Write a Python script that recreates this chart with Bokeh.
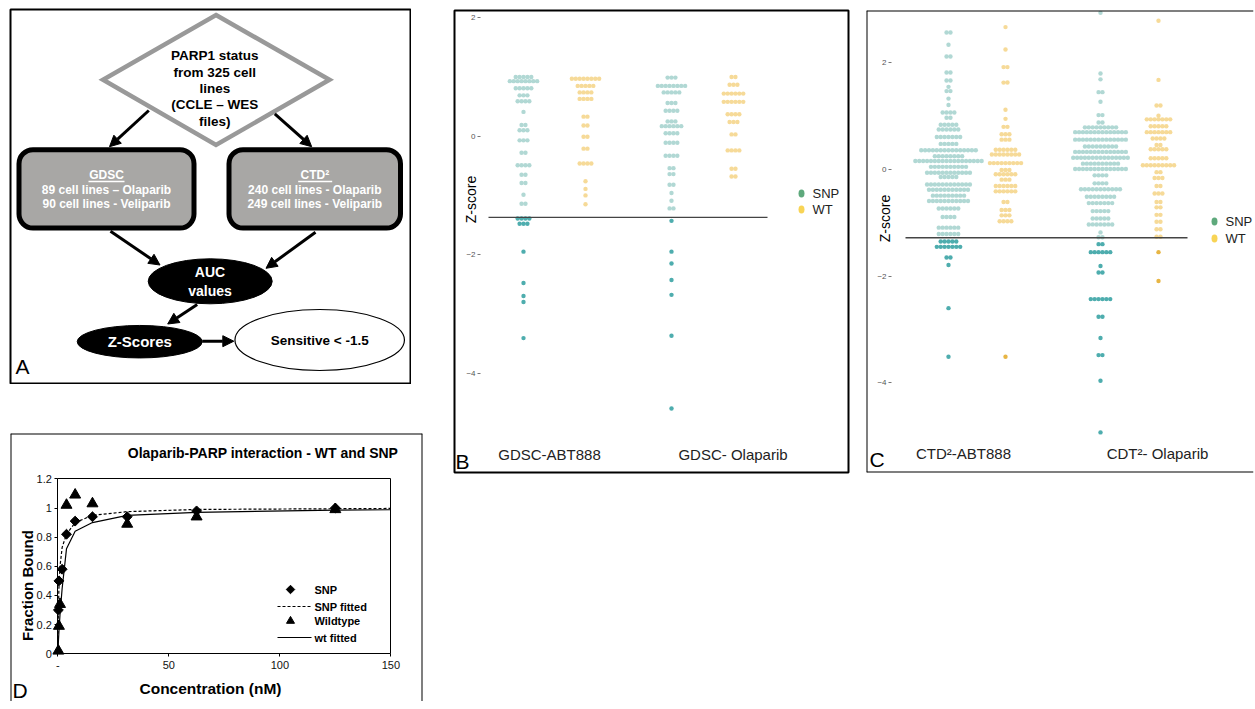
import math
from bokeh.plotting import figure
from bokeh.models import (Range1d, Spacer, FixedTicker, Arrow, NormalHead,
                          LinearAxis, ColumnDataSource)
from bokeh.layouts import row, column
from bokeh.core.properties import value
from bokeh.embed import file_html
from bokeh.resources import INLINE

F = value("Liberation Sans")
FS = "Liberation Sans"

# ---------------- Panel B data (GDSC, Z-scores) ----------------
gdsc_labels = ["GDSC-ABT888", "GDSC- Olaparib"]
gdsc_threshold = -1.37
gdsc_abt888_snp_z = [1.00, 0.93, 0.81, 0.69, 0.59, 0.41, 0.19, 0.10, -0.07, -0.28, -0.49,
                     -0.65, -0.79, -0.99, -1.14, -1.39, -1.48, -1.95, -2.48, -2.70, -2.80, -3.41]
gdsc_abt888_snp_n = [5, 8, 5, 3, 4, 1, 2, 3, 3, 2, 4, 2, 2, 1, 2, 4, 3, 1, 1, 1, 1, 1]
gdsc_abt888_wt_z = [0.97, 0.85, 0.74, 0.63, 0.33, 0.18, -0.01, -0.21, -0.46, -0.76, -0.89, -1.00, -1.15]
gdsc_abt888_wt_n = [8, 5, 4, 4, 2, 2, 2, 2, 4, 1, 1, 1, 1]
gdsc_olap_snp_z = [0.99, 0.85, 0.74, 0.56, 0.43, 0.25, 0.17, 0.05, -0.11, -0.33, -0.54, -0.64,
                   -0.82, -0.96, -1.09, -1.22, -1.43, -1.95, -2.15, -2.43, -2.68, -3.37, -4.60]
gdsc_olap_snp_n = [3, 8, 5, 3, 4, 3, 6, 4, 4, 4, 2, 2, 2, 1, 1, 2, 1, 1, 1, 1, 1, 1, 1]
gdsc_olap_wt_z = [1.00, 0.87, 0.72, 0.58, 0.37, 0.24, 0.03, -0.24, -0.55, -0.68]
gdsc_olap_wt_n = [2, 3, 6, 6, 4, 3, 2, 4, 2, 2]

# ---------------- Panel C data (CTD2, Z-scores) ----------------
ctd_labels = ["CTD\u00b2-ABT888", "CDT\u00b2- Olaparib"]
ctd_threshold = -1.28
ctd_abt888_snp_z = [2.57, 2.34, 2.12, 1.82, 1.67, 1.55, 1.47, 1.33, 1.21, 1.07,
                    0.97, 0.84, 0.75, 0.61, 0.48, 0.36, 0.25, 0.16, 0.05, -0.06,
                    -0.14, -0.28, -0.38, -0.49, -0.59, -0.73, -0.89, -1.09, -1.21, -1.35,
                    -1.45, -1.65, -1.79, -2.60, -3.51]
ctd_abt888_snp_n = [2, 1, 2, 2, 2, 1, 2, 1, 1, 4,
                    2, 5, 6, 7, 5, 15, 8, 18, 10, 12,
                    5, 12, 11, 9, 11, 6, 4, 6, 6, 5,
                    7, 2, 1, 1, 1]
ctd_abt888_wt_z = [2.67, 2.25, 1.92, 1.63, 1.12, 0.95, 0.80, 0.66, 0.56, 0.37, 0.28, 0.12,
                   -0.01, -0.09, -0.19, -0.31, -0.41, -0.61, -0.76, -0.86, -0.97, -3.51]
ctd_abt888_wt_n = [1, 1, 2, 2, 1, 1, 2, 3, 3, 6, 8, 9, 3, 6, 3, 6, 6, 2, 3, 3, 4, 1]
ctd_olap_snp_z = [2.94, 1.80, 1.69, 1.45, 1.27, 1.02, 0.88, 0.79, 0.70, 0.56,
                  0.43, 0.33, 0.22, 0.11, 0.01, -0.11, -0.26, -0.37, -0.51, -0.63,
                  -0.78, -0.92, -1.03, -1.18, -1.27, -1.40, -1.55, -1.81, -1.93, -2.43,
                  -2.76, -3.16, -3.48, -3.96, -4.93]
ctd_olap_snp_n = [1, 1, 1, 2, 1, 2, 2, 9, 14, 14,
                  9, 14, 15, 10, 14, 4, 4, 11, 8, 7,
                  5, 5, 7, 1, 2, 2, 6, 1, 2, 6,
                  2, 1, 2, 1, 1]
ctd_olap_wt_z = [2.79, 1.68, 1.20, 1.01, 0.94, 0.81, 0.70, 0.58, 0.46, 0.38, 0.21, 0.08,
                 -0.05, -0.16, -0.31, -0.45, -0.61, -0.71, -0.85, -0.98, -1.12, -1.26, -1.55, -2.09]
ctd_olap_wt_n = [1, 1, 2, 1, 7, 5, 7, 4, 2, 5, 5, 9, 2, 3, 2, 3, 2, 2, 2, 2, 2, 2, 1, 1]

z_ticks = [-4, -2, 0, 2]
legend_labels = ["SNP", "WT"]

# ---------------- Panel D data (binding curve) ----------------
conc_snp = [0.24, 0.49, 1.95, 3.9, 7.8, 15.6, 31.25, 62.5, 125]
frac_snp = [0.30, 0.50, 0.58, 0.82, 0.91, 0.94, 0.94, 0.98, 1.00]
conc_wt = [0.24, 0.49, 0.98, 3.9, 7.8, 15.6, 31.25, 62.5, 125]
frac_wt = [0.02, 0.19, 0.34, 1.02, 1.09, 1.03, 0.89, 0.94, 0.99]
fit_conc = [0, 0.24, 0.49, 0.98, 1.95, 3.9, 7.8, 15.6, 31.25, 62.5, 125, 150]
snp_fit = [0.0, 0.28, 0.45, 0.60, 0.73, 0.82, 0.90, 0.95, 0.975, 0.99, 0.995, 0.997]
wt_fit = [0.0, 0.08, 0.15, 0.27, 0.45, 0.72, 0.84, 0.90, 0.95, 0.97, 0.985, 0.988]
conc_ticks = [0, 50, 100, 150]
frac_ticks = [0, 0.2, 0.4, 0.6, 0.8, 1.0, 1.2]
d_legend = ["SNP", "SNP fitted", "Wildtype", "wt fitted"]

# ---------------- styles ----------------
SNP_LIGHT = "#a3d1cc"
SNP_DARK = "#2f9fa0"
WT_LIGHT = "#f4d386"
WT_DARK = "#e3a823"
LEG_SNP = "#5ea97c"
LEG_WT = "#f8d455"
DOT_STEP = 3.9
DOT_SIZE = 4.4


def base_fig(w, h, xr, yr, mb=2, outline=True):
    p = figure(width=w, height=h, x_range=xr, y_range=yr, x_axis_type=None,
               y_axis_type=None, toolbar_location=None, output_backend="svg",
               min_border=mb, outline_line_color="black" if outline else None,
               outline_line_width=2,
               background_fill_color="white", border_fill_color="white")
    p.xgrid.visible = False
    p.ygrid.visible = False
    return p


def border_line(p, side, loc):
    ax = LinearAxis(fixed_location=loc, ticker=FixedTicker(ticks=[]), axis_line_color="black",
                    axis_line_width=2, major_tick_out=0, major_tick_in=0,
                    minor_tick_out=0, minor_tick_in=0, major_label_text_font_size="0px")
    p.add_layout(ax, side)


def draw_swarm(p, zs, ns, cx, thr, light, dark):
    xs, ys, cs = [], [], []
    for z, n in zip(zs, ns):
        for i in range(n):
            xs.append(cx + (i - (n - 1) / 2) * DOT_STEP)
            ys.append(z)
            cs.append(dark if z < thr else light)
    src = ColumnDataSource(dict(x=xs, y=ys, c=cs))
    p.scatter("x", "y", source=src, size=DOT_SIZE, fill_color="c",
              line_color=None, fill_alpha=0.85)


def z_axis(p, xloc):
    ax = LinearAxis(fixed_location=xloc, ticker=FixedTicker(ticks=z_ticks),
                    axis_line_color=None, major_tick_in=0, major_tick_out=3,
                    minor_tick_in=0, minor_tick_out=0, major_tick_line_color="#777777",
                    major_label_text_font_size="8px", major_label_text_color="#555555",
                    major_label_standoff=2, major_label_text_font=FS)
    p.add_layout(ax, "left")


def txt(p, x, y, t, size, color="black", style="normal", align="center",
        baseline="middle", angle=0.0):
    p.text(x=[x], y=[y], text=[t], text_font=F, text_font_size=size,
           text_color=color, text_font_style=style, text_align=align,
           text_baseline=baseline, angle=angle)


# ================= Panel A: flowchart =================
pA = base_fig(402, 376, Range1d(10, 410), Range1d(383, 9), mb=1)
pA.patch([215.5, 329, 215.5, 102.5], [14.5, 79.3, 144.5, 79.3], fill_color="white",
         line_color="#999999", line_width=4.5, line_join="miter")
for i, t in enumerate(["PARP1 status", "from 325 cell", "lines", "(CCLE \u2013 WES", "files)"]):
    txt(pA, 214.3, [55, 71.7, 88.3, 104.3, 121][i], t, "13.5px", style="bold")

pA.quad(left=[18.5, 228.5], right=[193.5, 400], top=[149.2, 149.2], bottom=[227.5, 227.5],
        fill_color="#a8a7a5", line_color="black", line_width=5, border_radius=14)
box_txt = [["GDSC", "89 cell lines \u2013 Olaparib", "90 cell lines - Veliparib"],
           ["CTD\u00b2", "240 cell lines - Olaparib", "249 cell lines - Veliparib"]]
for cx, lines in zip([106, 314.3], box_txt):
    for yy, t in zip([174.3, 189, 203.7], lines):
        txt(pA, cx, yy, t, "12px", color="white", style="bold")
pA.segment(x0=[88, 297.7], y0=[181, 181], x1=[124, 331.7], y1=[181, 181],
           line_color="white", line_width=1.5)

pA.ellipse(x=[209.7, 139.2], y=[280.8, 341.2], width=[124, 125], height=[45, 32.5],
           fill_color="black", line_color="black")
pA.ellipse(x=[319.2], y=[339.5], width=[169.5], height=[61], fill_color="white",
           line_color="black", line_width=1.2)
txt(pA, 209.5, 271.7, "AUC", "14px", color="white", style="bold")
txt(pA, 209.5, 290, "values", "14px", color="white", style="bold")
txt(pA, 139.3, 341.2, "Z-Scores", "15px", color="white", style="bold")
txt(pA, 319.2, 340, "Sensitive < -1.5", "13.5px", style="bold")
txt(pA, 15, 366, "A", "21px", align="left")

arrows = [(148.3, 110, 109, 146.2), (274.3, 113.3, 311.2, 146.2), (110, 230.7, 159.5, 264.5),
          (315, 231.7, 265.5, 267.8), (196.7, 304, 167.2, 323.5), (201.7, 340.7, 233.3, 340.7)]
for xs_, ys_, xe_, ye_ in arrows:
    pA.add_layout(Arrow(x_start=xs_, y_start=ys_, x_end=xe_, y_end=ye_, line_width=3,
                        line_color="black",
                        end=NormalHead(size=11, fill_color="black", line_color="black")))


# ================= Panel B: GDSC swarm =================
def zb(py):
    return (135.7 - py) / 59.2


pB = base_fig(398, 466, Range1d(454, 848), Range1d(zb(472), zb(10)))
z_axis(pB, 480)
b_cols = [523, 585, 671, 733]
draw_swarm(pB, gdsc_abt888_snp_z, gdsc_abt888_snp_n, b_cols[0], gdsc_threshold, SNP_LIGHT, SNP_DARK)
draw_swarm(pB, gdsc_abt888_wt_z, gdsc_abt888_wt_n, b_cols[1], gdsc_threshold, WT_LIGHT, WT_DARK)
draw_swarm(pB, gdsc_olap_snp_z, gdsc_olap_snp_n, b_cols[2], gdsc_threshold, SNP_LIGHT, SNP_DARK)
draw_swarm(pB, gdsc_olap_wt_z, gdsc_olap_wt_n, b_cols[3], gdsc_threshold, WT_LIGHT, WT_DARK)
pB.segment(x0=[488], y0=[gdsc_threshold], x1=[767], y1=[gdsc_threshold],
           line_color="#444444", line_width=1.3)
pB.ellipse(x=[801, 801], y=[zb(193), zb(209)], width=6, height=8, width_units="screen",
           height_units="screen", fill_color=[LEG_SNP, LEG_WT], line_color=None)
txt(pB, 812, zb(193), legend_labels[0], "13px", color="#222222", align="left")
txt(pB, 812, zb(209), legend_labels[1], "13px", color="#222222", align="left")
txt(pB, 470, zb(199), "Z-score", "14px", angle=math.pi / 2)
txt(pB, 549, zb(454), gdsc_labels[0], "15px", color="#222222")
txt(pB, 732.5, zb(454), gdsc_labels[1], "15px", color="#222222")
txt(pB, 455, zb(461), "B", "21px", align="left")


# ================= Panel C: CTD2 swarm =================
def zc(py):
    return (169.0 - py) / 53.33


pC = base_fig(391, 466, Range1d(866, 1253), Range1d(zc(472), zc(10)), outline=False)
border_line(pC, "left", 866)
border_line(pC, "above", zc(10))
border_line(pC, "below", zc(472))
z_axis(pC, 891)
c_cols = [948, 1005, 1100, 1158]
draw_swarm(pC, ctd_abt888_snp_z, ctd_abt888_snp_n, c_cols[0], ctd_threshold, SNP_LIGHT, SNP_DARK)
draw_swarm(pC, ctd_abt888_wt_z, ctd_abt888_wt_n, c_cols[1], ctd_threshold, WT_LIGHT, WT_DARK)
draw_swarm(pC, ctd_olap_snp_z, ctd_olap_snp_n, c_cols[2], ctd_threshold, SNP_LIGHT, SNP_DARK)
draw_swarm(pC, ctd_olap_wt_z, ctd_olap_wt_n, c_cols[3], ctd_threshold, WT_LIGHT, WT_DARK)
pC.segment(x0=[905], y0=[ctd_threshold], x1=[1187], y1=[ctd_threshold],
           line_color="#444444", line_width=1.3)
pC.ellipse(x=[1214, 1214], y=[zc(221), zc(238)], width=6, height=8, width_units="screen",
           height_units="screen", fill_color=[LEG_SNP, LEG_WT], line_color=None)
txt(pC, 1225, zc(221), legend_labels[0], "13px", color="#222222", align="left")
txt(pC, 1225, zc(238), legend_labels[1], "13px", color="#222222", align="left")
txt(pC, 884, zc(218), "Z-score", "14px", angle=math.pi / 2)
txt(pC, 963, zc(453), ctd_labels[0], "15px", color="#222222")
txt(pC, 1157, zc(453), ctd_labels[1], "15px", color="#222222")
txt(pC, 869, zc(459), "C", "21px", align="left")


# ================= Panel D: binding curves =================
def dx(px):
    return (px - 57.33) / 2.22


def dy(py):
    return (653.33 - py) / 145.83


pD = base_fig(414, 269, Range1d(dx(10), dx(422)), Range1d(dy(701), dy(433)), mb=1,
              outline=False)
pD.min_border_bottom = 0
border_line(pD, "left", dx(10))
border_line(pD, "right", dx(422))
border_line(pD, "above", dy(433))
xa = LinearAxis(fixed_location=0, bounds=(0, 150), ticker=FixedTicker(ticks=conc_ticks),
                major_label_overrides={0: "-"}, axis_line_color="black", major_tick_in=0,
                major_tick_out=3, minor_tick_in=0, minor_tick_out=0,
                major_label_text_font_size="11px", major_label_text_font=FS,
                major_label_text_color="#111111", major_label_standoff=4)
pD.add_layout(xa, "below")
ya = LinearAxis(fixed_location=0, bounds=(0, 1.2), ticker=FixedTicker(ticks=frac_ticks),
                major_label_overrides={0: "0", 1: "1"}, axis_line_color="black",
                major_tick_in=0, major_tick_out=3, minor_tick_in=0, minor_tick_out=0,
                major_label_text_font_size="11px", major_label_text_font=FS,
                major_label_text_color="#111111", major_label_standoff=3)
pD.add_layout(ya, "left")
ta = LinearAxis(fixed_location=1.2, bounds=(0, 150), ticker=FixedTicker(ticks=[]),
                axis_line_color="black", major_tick_out=0, minor_tick_out=0,
                major_label_text_font_size="0px")
pD.add_layout(ta, "above")
ra = LinearAxis(fixed_location=150, bounds=(0, 1.2), ticker=FixedTicker(ticks=[]),
                axis_line_color="black", major_tick_out=0, minor_tick_out=0,
                major_label_text_font_size="0px")
pD.add_layout(ra, "right")

pD.line(fit_conc, wt_fit, line_color="black", line_width=1.2)
pD.line(fit_conc, snp_fit, line_color="black", line_width=1.2, line_dash="3 2")
pD.scatter(conc_snp, frac_snp, marker="square", angle=math.pi / 4, size=7,
           fill_color="black", line_color="black")
pD.scatter(conc_wt, frac_wt, marker="triangle", size=11, fill_color="black",
           line_color="black")

# legend (manual)
leg_y = [589, 606, 620.5, 637]
pD.scatter([dx(290)], [dy(leg_y[0])], marker="square", angle=math.pi / 4, size=6,
           fill_color="black", line_color="black")
pD.segment(x0=[dx(277)], y0=[dy(leg_y[1])], x1=[dx(311)], y1=[dy(leg_y[1])],
           line_color="black", line_width=1.2, line_dash="3 2")
pD.scatter([dx(290)], [dy(leg_y[2])], marker="triangle", size=8, fill_color="black",
           line_color="black")
pD.segment(x0=[dx(277)], y0=[dy(leg_y[3])], x1=[dx(311)], y1=[dy(leg_y[3])],
           line_color="black", line_width=1.2)
for yy, t in zip(leg_y, d_legend):
    txt(pD, dx(314), dy(yy), t, "11px", style="bold", align="left")

txt(pD, dx(262.5), dy(452), "Olaparib-PARP interaction - WT and SNP", "14px", style="bold")
txt(pD, dx(27), dy(585), "Fraction Bound", "15px", style="bold", angle=math.pi / 2)
txt(pD, dx(210), dy(688), "Concentration (nM)", "15.5px", style="bold")
txt(pD, dx(12), dy(690), "D", "21px", align="left")

# ================= layout =================
left_col = column(Spacer(width=10, height=8), pA, Spacer(width=10, height=48), pD)
layout = row(Spacer(width=9, height=10), left_col, Spacer(width=29, height=10),
             column(Spacer(width=10, height=8), pB), Spacer(width=14, height=10),
             column(Spacer(width=10, height=8), pC))

open("out.html", "w").write(file_html(layout, INLINE))
